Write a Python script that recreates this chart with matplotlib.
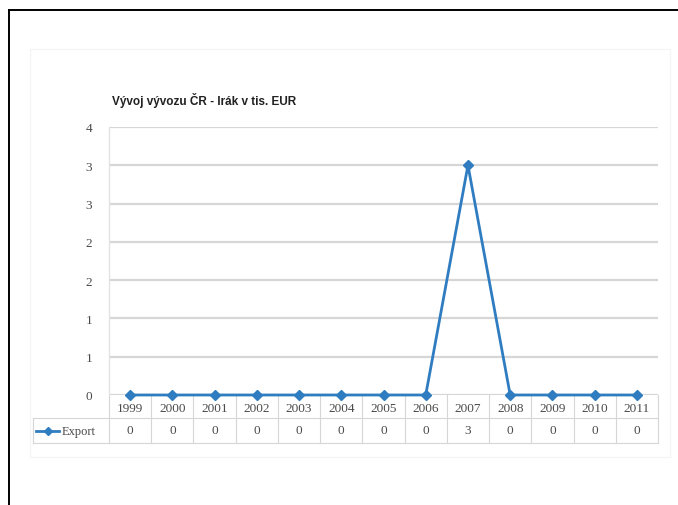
import matplotlib.pyplot as plt
import matplotlib.transforms as mtransforms
from matplotlib.patches import Rectangle
from matplotlib.lines import Line2D

years = ["1999", "2000", "2001", "2002", "2003", "2004", "2005",
         "2006", "2007", "2008", "2009", "2010", "2011"]
export = [0, 0, 0, 0, 0, 0, 0, 0, 3, 0, 0, 0, 0]
y_ticks = [0, 0.5, 1, 1.5, 2, 2.5, 3, 3.5]
y_labels = ["0", "1", "1", "2", "2", "3", "3", "4"]

title = "Vývoj vývozu ČR - Irák v tis. EUR"
series_name = "Export"

blue = "#2f7dc0"
grid = "#d6d6d6"
serif = "Liberation Serif"
fs = 9.5

W, H = 678, 506
fig = plt.figure(figsize=(W / 100, H / 100), dpi=100)

# page frame
fig.add_artist(Line2D([9 / W, 9 / W], [0, 1 - 11 / H], color="black", lw=1.4))
fig.add_artist(Line2D([9 / W, 1], [1 - 11 / H, 1 - 11 / H], color="black", lw=1.4))
# faint chart area border
fig.add_artist(Rectangle((30 / W, 1 - 458 / H), 640 / W, 408 / H,
                         facecolor="none", edgecolor="#f5f5f5", lw=1))

left, right, top, bottom = 109, 658, 128, 396
ax = fig.add_axes([left / W, 1 - bottom / H, (right - left) / W, (bottom - top) / H])

x = list(range(len(years)))
ax.plot(x, export, color=blue, lw=2, marker="D", markersize=5,
        markerfacecolor=blue, markeredgecolor=blue, zorder=3, clip_on=False)

ax.set_xlim(-0.5, len(years) - 0.5)
ax.set_ylim(0, 3.5)
ax.set_yticks(y_ticks)
ax.set_yticklabels(y_labels, fontfamily=serif, fontsize=fs, color="#4a4a4a")
ax.tick_params(axis="y", length=0, pad=12)
ax.set_xticks([])
ax.yaxis.grid(True, color=grid, lw=1.6)
ax.set_axisbelow(True)
for s in ["top", "right", "bottom"]:
    ax.spines[s].set_visible(False)
ax.spines["left"].set_color("#e3e3e3")
ax.spines["left"].set_linewidth(1)

fig.text(112 / W, 1 - 100 / H, title, fontsize=8.5, fontweight="bold",
         fontfamily="Liberation Sans", color="#222222", va="center")

# data table below the plot
tr = mtransforms.blended_transform_factory(ax.transData, ax.transAxes)
h_px = bottom - top
row1 = -23 / h_px
row2 = -48 / h_px
table_left = -(left - 33) / (right - left)
n = len(years)
ax.plot([-0.5, n - 0.5], [row1, row1], transform=tr, color=grid, lw=0.8, clip_on=False)
ax.plot([-0.5, n - 0.5], [row2, row2], transform=tr, color=grid, lw=0.8, clip_on=False)
ax.plot([table_left, 0], [row1, row1], transform=ax.transAxes, color=grid, lw=0.8, clip_on=False)
ax.plot([table_left, 0], [row2, row2], transform=ax.transAxes, color=grid, lw=0.8, clip_on=False)
ax.plot([table_left, table_left], [row1, row2], transform=ax.transAxes, color=grid, lw=0.8, clip_on=False)
for i in range(n + 1):
    ax.plot([i - 0.5, i - 0.5], [0, row2], transform=tr, color=grid, lw=0.8, clip_on=False)
for i, (yr, v) in enumerate(zip(years, export)):
    ax.text(i, row1 / 2 - 0.005, yr, transform=tr, ha="center", va="center",
            fontfamily=serif, fontsize=fs, color="#4a4a4a")
    ax.text(i, (row1 + row2) / 2, f"{v:.0f}", transform=tr, ha="center", va="center",
            fontfamily=serif, fontsize=fs, color="#4a4a4a")

# legend key inside the table
ymid = (row1 + row2) / 2
ax.plot([table_left + 0.005, table_left + 0.048], [ymid, ymid], transform=ax.transAxes,
        color=blue, lw=2, clip_on=False)
ax.plot([table_left + 0.0265], [ymid], transform=ax.transAxes, marker="D", markersize=4,
        color=blue, clip_on=False)
ax.text(table_left + 0.052, ymid, series_name, transform=ax.transAxes, va="center",
        fontfamily=serif, fontsize=fs - 0.5, color="#4a4a4a")

fig.savefig("out.png", dpi=100)
